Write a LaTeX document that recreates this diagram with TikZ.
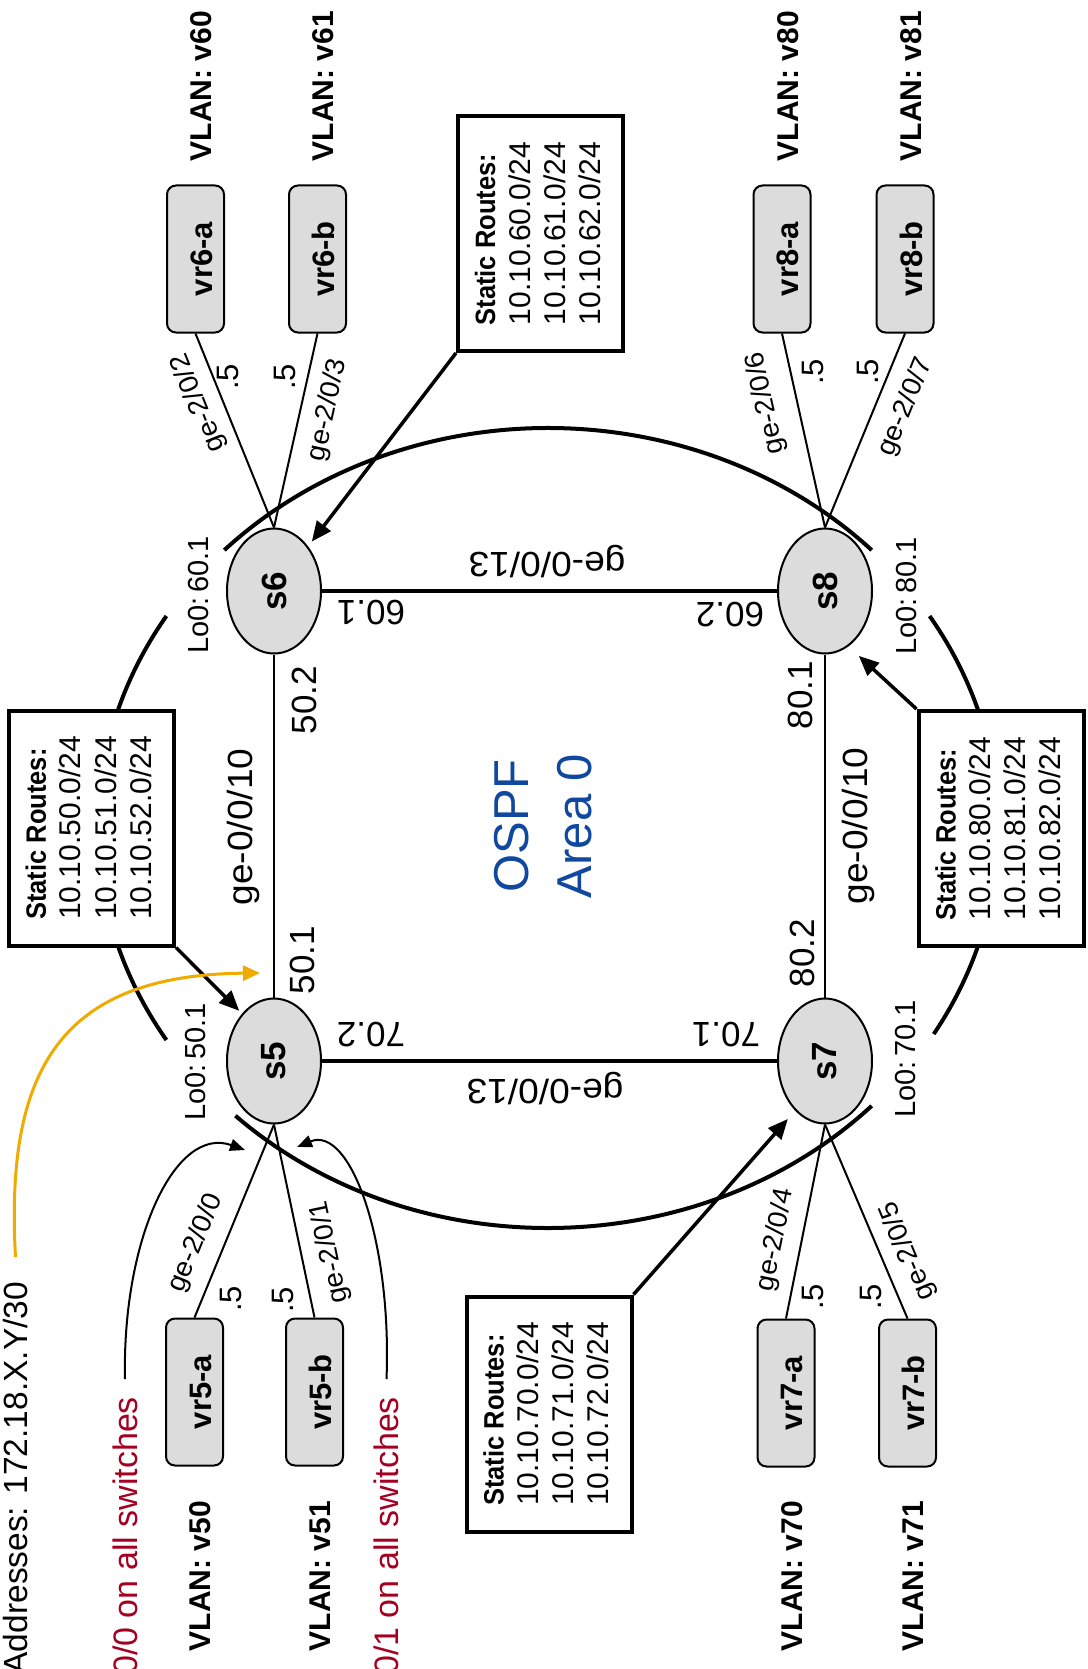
\documentclass[tikz,border=0pt]{standalone}
\usepackage{fontspec}
\setmainfont{Liberation Sans}
\usepackage{graphicx}
\usetikzlibrary{arrows.meta,shapes.geometric,calc}
\definecolor{swfill}{RGB}{220,220,220}
\definecolor{ospfblue}{RGB}{16,72,160}
\definecolor{notered}{RGB}{165,0,33}
\definecolor{addrorange}{RGB}{240,170,0}
\newcommand\routeslist[3]{\rotatebox{90}{\begin{tabular}{@{}l@{}}{\fontsize{28}{35}\selectfont\bfseries\scalebox{0.91}[1]{Static Routes:}}\\10.10.#1.0/24\\10.10.#2.0/24\\10.10.#3.0/24\end{tabular}}}
\begin{document}
\begin{tikzpicture}[x=1pt,y=1pt,
 sw/.style={ellipse, draw, line width=2pt, fill=swfill, minimum width=94pt, minimum height=125pt, inner sep=0pt, font=\fontsize{35}{38}\selectfont\bfseries},
 vrbox/.style={rectangle, rounded corners=9pt, draw, line width=2pt, fill=swfill, minimum width=57pt, minimum height=147pt, inner sep=0pt, font=\fontsize{31}{35}\selectfont\bfseries},
 srbox/.style={rectangle, draw, line width=4pt, fill=white, minimum width=165pt, minimum height=235pt, inner sep=0pt, font=\fontsize{30}{35}\selectfont},
 vlan/.style={rotate=90, inner sep=0pt, font=\fontsize{30}{34}\selectfont\bfseries},
 loz/.style={rotate=90, inner sep=0pt, font=\fontsize{29}{33}\selectfont},
 port/.style={inner sep=0pt, font=\fontsize{27}{30}\selectfont},
 dotfive/.style={rotate=90, inner sep=0pt, font=\fontsize{31}{34}\selectfont},
 ip/.style={inner sep=0pt, font=\fontsize{35}{38}\selectfont},
 trunk/.style={line width=4pt},
 acc/.style={line width=2pt},
 ring/.style={line width=4pt},
 srarrow/.style={line width=3.5pt, -{Triangle[length=20pt,width=17pt]}},
 callout/.style={line width=2pt, -{Triangle[length=15pt,width=12pt]}},
 note/.style={rotate=90, inner sep=0pt, font=\fontsize{34}{38}\selectfont},
]
\path[use as bounding box, fill=white] (0,0) rectangle (1087,-1669);

% ring
\coordinate (ringc) at (548,-828);
\draw[ring] (ringc) ++(44:450pt and 400pt) arc[start angle=44,end angle=136,x radius=450pt,y radius=400pt];
\draw[ring] (ringc) ++(148:450pt and 400pt) arc[start angle=148,end angle=212,x radius=450pt,y radius=400pt];
\draw[ring] (ringc) ++(226:450pt and 400pt) arc[start angle=226,end angle=316,x radius=450pt,y radius=400pt];
\draw[ring] (ringc) ++(329:450pt and 400pt) arc[start angle=329,end angle=392,x radius=450pt,y radius=400pt];

% switches
\node[sw] (s6) at (274,-591) {\rotatebox{90}{s6}};
\node[sw] (s8) at (825,-591) {\rotatebox{90}{s8}};
\node[sw] (s5) at (274,-1061) {\rotatebox{90}{s5}};
\node[sw] (s7) at (825,-1061) {\rotatebox{90}{s7}};

% access routers
\node[vrbox] (vr6a) at (195.5,-259) {\hspace{12pt}\rotatebox{90}{vr6-a}};
\node[vrbox] (vr6b) at (317.5,-259) {\hspace{12pt}\rotatebox{90}{vr6-b}};
\node[vrbox] (vr8a) at (782,-259) {\hspace{12pt}\rotatebox{90}{vr8-a}};
\node[vrbox] (vr8b) at (905,-259) {\hspace{12pt}\rotatebox{90}{vr8-b}};
\node[vrbox] (vr5a) at (194.5,-1392) {\hspace{12pt}\rotatebox{90}{vr5-a}};
\node[vrbox] (vr5b) at (314.5,-1392) {\hspace{12pt}\rotatebox{90}{vr5-b}};
\node[vrbox] (vr7a) at (786,-1393) {\hspace{12pt}\rotatebox{90}{vr7-a}};
\node[vrbox] (vr7b) at (907.5,-1393) {\hspace{12pt}\rotatebox{90}{vr7-b}};

% links
\draw[trunk] (s6) -- (s8);
\draw[trunk] (s5) -- (s7);
\draw[acc] (s5) -- (s6);
\draw[acc] (s7) -- (s8);
\draw[acc] (vr6a.south) -- (s6.north);
\draw[acc] (vr6b.south) -- (s6.north);
\draw[acc] (vr8a.south) -- (s8.north);
\draw[acc] (vr8b.south) -- (s8.north);
\draw[acc] (vr5a.north) -- (s5.south);
\draw[acc] (vr5b.north) -- (s5.south);
\draw[acc] (vr7a.north) -- (s7.south);
\draw[acc] (vr7b.north) -- (s7.south);

% static route boxes
\node[srbox] (sr6) at (540.5,-233.5) {\routeslist{60}{61}{62}};
\node[srbox] (sr8) at (1001,-828.5) {\routeslist{80}{81}{82}};
\node[srbox] (sr5) at (91.5,-828) {\routeslist{50}{51}{52}};
\node[srbox] (sr7) at (549,-1414) {\routeslist{70}{71}{72}};
\draw[srarrow, shorten >=6pt] (sr6.south west) -- (s6);
\draw[srarrow, shorten >=14pt] (sr8.north west) -- (s8.-67.6);
\draw[srarrow, shorten >=4pt] (sr5.south east) -- (s5.124.8);
\draw[srarrow, shorten >=11pt] (sr7.north east) -- (s7.239.3);

% trunk labels
\node[ip, rotate=180] (t68) at (547,-562) {\scalebox{1.06}[1]{ge-0/0/13}};
\node[ip, rotate=180] (i601) at (371,-613) {60.1};
\node[ip, rotate=180] (i602) at (730,-615) {60.2};
\node[ip, rotate=180] (t57) at (545,-1089) {\scalebox{1.06}[1]{ge-0/0/13}};
\node[ip, rotate=180] (i702) at (371,-1035) {70.2};
\node[ip, rotate=180] (i701) at (726,-1035) {70.1};
\node[ip, rotate=90] (t56) at (243.5,-827) {\scalebox{1.06}[1]{ge-0/0/10}};
\node[ip, rotate=90] (t78) at (858,-826) {\scalebox{1.06}[1]{ge-0/0/10}};
\node[ip, rotate=90] (i502) at (304,-700) {50.2};
\node[ip, rotate=90] (i501) at (302,-960) {50.1};
\node[ip, rotate=90] (i801) at (800,-695) {80.1};
\node[ip, rotate=90] (i802) at (802,-953) {80.2};

% loopbacks
\node[loz] (lo6) at (199,-595) {Lo0:\,60.1};
\node[loz] (lo8) at (907,-596) {Lo0:\,80.1};
\node[loz] (lo5) at (196,-1062) {Lo0:\,50.1};
\node[loz] (lo7) at (906,-1059) {Lo0:\,70.1};

% VLANs
\node[vlan] (v60) at (201.5,-86) {VLAN: v60};
\node[vlan] (v61) at (323.5,-86) {VLAN: v61};
\node[vlan] (v80) at (788,-86) {VLAN: v80};
\node[vlan] (v81) at (911,-86) {VLAN: v81};
\node[vlan] (v50) at (200.5,-1576) {VLAN: v50};
\node[vlan] (v51) at (320.5,-1576) {VLAN: v51};
\node[vlan] (v70) at (792,-1576) {VLAN: v70};
\node[vlan] (v71) at (913.5,-1576) {VLAN: v71};

% port labels
\node[port, rotate=112] (p2) at (199,-403) {\scalebox{1.05}[1]{ge-2/0/2}};
\node[port, rotate=77.6] (p3) at (328,-410) {\scalebox{1.05}[1]{ge-2/0/3}};
\node[port, rotate=102.3] (p6) at (766,-403) {\scalebox{1.05}[1]{ge-2/0/6}};
\node[port, rotate=67.9] (p7) at (906,-407) {\scalebox{1.05}[1]{ge-2/0/7}};
\node[port, rotate=67.7] (p0) at (196,-1243) {\scalebox{1.05}[1]{ge-2/0/0}};
\node[port, rotate=101.8] (p1) at (330,-1252) {\scalebox{1.05}[1]{ge-2/0/1}};
\node[port, rotate=78.7] (p4) at (776,-1240) {\scalebox{1.05}[1]{ge-2/0/4}};
\node[port, rotate=112.8] (p5) at (908,-1251) {\scalebox{1.05}[1]{ge-2/0/5}};

\node[dotfive] (d6a) at (228,-377) {.5};
\node[dotfive] (d6b) at (285,-377) {.5};
\node[dotfive] (d8a) at (813,-372) {.5};
\node[dotfive] (d8b) at (868,-372) {.5};
\node[dotfive] (d5a) at (231,-1299) {.5};
\node[dotfive] (d5b) at (282.5,-1300) {.5};
\node[dotfive] (d7a) at (813,-1297) {.5};
\node[dotfive] (d7b) at (871,-1297) {.5};

% OSPF
\node[rotate=90, align=center, text=ospfblue, font=\fontsize{49}{63}\selectfont, inner sep=0pt] (ospf) at (543,-826) {OSPF\\Area 0};

% notes
\node[note, text=notered, anchor=east, outer xsep=18pt] (n0) at (125,-1379) {0/0 on all switches};
\node[note, text=notered, anchor=east, outer xsep=18pt] (n1) at (386.5,-1379) {0/1 on all switches};
\node[note, anchor=east, outer xsep=25pt, font=\fontsize{33.5}{38}\selectfont] (addr) at (15.5,-1257) {Addresses: 172.18.X.Y/30};
\coordinate (tipn0) at (245,-1150);
\coordinate (tipn1) at (297,-1147);
\coordinate (tipaddr) at (260,-973);
\draw[callout] (n0.east) .. controls (122,-1240) and (175,-1125) .. (tipn0);
\draw[callout] (n1.east) .. controls (392,-1240) and (350,-1125) .. (tipn1);
\draw[line width=3pt, addrorange, -{Triangle[length=17pt,width=15pt]}] (addr.east) .. controls (5,-1070) and (60,-975) .. (tipaddr);
\end{tikzpicture}
\end{document}
